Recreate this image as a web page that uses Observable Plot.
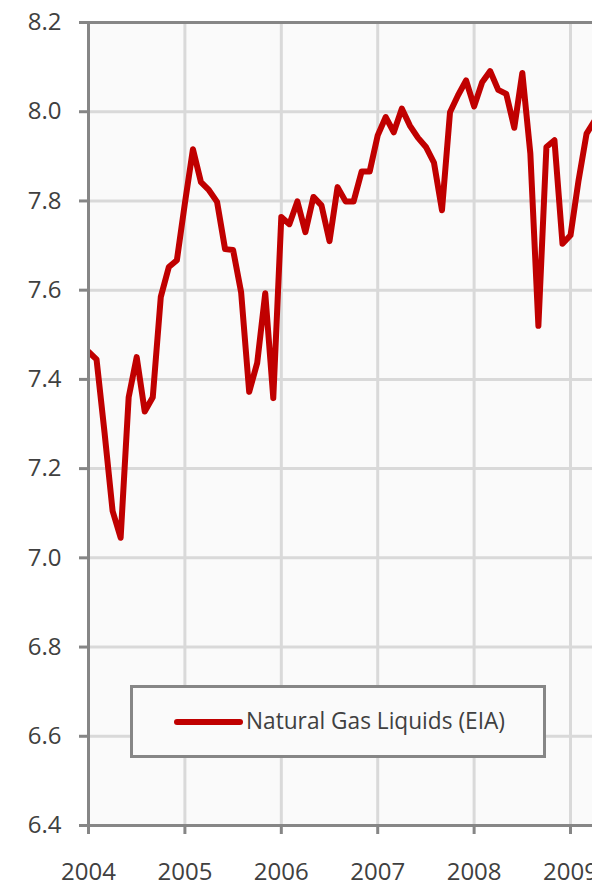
<!DOCTYPE html>
<html>
<head>
<meta charset="utf-8">
<script src="https://cdn.jsdelivr.net/npm/d3@7"></script>
<script src="https://cdn.jsdelivr.net/npm/@observablehq/plot@0.6"></script>
<style>
  html, body { margin: 0; padding: 0; background: #ffffff; overflow: hidden; }
  #wrap { position: relative; width: 592px; height: 884px; }
  #legend {
    position: absolute; left: 130px; top: 685px; width: 416px; height: 73px;
    box-sizing: border-box; border: 3px solid #868686; background: #fafafa;
  }
  #legend svg { position: absolute; left: -3px; top: -3px; }
</style>
</head>
<body>
<div id="wrap"></div>
<script>
// Monthly Natural Gas Liquids production (EIA), million b/d, Jan 2004 – Apr 2009
const months = [
  "2004-01","2004-02","2004-03","2004-04","2004-05","2004-06","2004-07","2004-08","2004-09","2004-10","2004-11","2004-12",
  "2005-01","2005-02","2005-03","2005-04","2005-05","2005-06","2005-07","2005-08","2005-09","2005-10","2005-11","2005-12",
  "2006-01","2006-02","2006-03","2006-04","2006-05","2006-06","2006-07","2006-08","2006-09","2006-10","2006-11","2006-12",
  "2007-01","2007-02","2007-03","2007-04","2007-05","2007-06","2007-07","2007-08","2007-09","2007-10","2007-11","2007-12",
  "2008-01","2008-02","2008-03","2008-04","2008-05","2008-06","2008-07","2008-08","2008-09","2008-10","2008-11","2008-12",
  "2009-01","2009-02","2009-03","2009-04"
];
const values = [
  7.462, 7.445, 7.28, 7.105, 7.045, 7.36, 7.45, 7.328, 7.36, 7.585, 7.652, 7.667,
  7.795, 7.916, 7.842, 7.824, 7.798, 7.692, 7.69, 7.595, 7.372, 7.437, 7.593, 7.358,
  7.764, 7.748, 7.799, 7.73, 7.809, 7.79, 7.71, 7.831, 7.799, 7.799, 7.866, 7.866,
  7.947, 7.988, 7.954, 8.007, 7.969, 7.942, 7.921, 7.886, 7.779, 7.999, 8.037, 8.07,
  8.012, 8.066, 8.091, 8.049, 8.04, 7.964, 8.087, 7.906, 7.52, 7.921, 7.936, 7.704,
  7.723, 7.846, 7.951, 7.98
];
const yearTicks = [2004, 2005, 2006, 2007, 2008, 2009];
const valueTicks = [6.4, 6.6, 6.8, 7.0, 7.2, 7.4, 7.6, 7.8, 8.0, 8.2];
const seriesName = "Natural Gas Liquids (EIA)";

const data = months.map((m, i) => {
  const [y, mo] = m.split("-").map(Number);
  return { t: y + (mo - 1) / 12, v: values[i] };
});

const axisColor = "#868686";
const gridColor = "#d9d9d9";
const textColor = "#404040";
const lineColor = "#c00000";

const chart = Plot.plot({
  width: 592,
  height: 884,
  marginLeft: 88,
  marginRight: 0,
  marginTop: 22,
  marginBottom: 59,
  style: { fontFamily: "Open Sans", fontSize: "24px", color: textColor, background: "#ffffff", overflow: "hidden" },
  x: { domain: [2004, 2009.228], ticks: yearTicks },
  y: { domain: [6.4, 8.2], ticks: valueTicks },
  marks: [
    Plot.frame({ fill: "#fafafa", stroke: null }),
    Plot.gridX(yearTicks, { stroke: gridColor, strokeOpacity: 1, strokeWidth: 3 }),
    Plot.gridY(valueTicks, { stroke: gridColor, strokeOpacity: 1, strokeWidth: 3 }),
    Plot.axisX(yearTicks, {
      tickSize: 9, tickPadding: 28, stroke: axisColor, strokeWidth: 3,
      fill: textColor, fontSize: 24, tickFormat: d => String(d), label: null
    }),
    Plot.axisY(valueTicks, {
      tickSize: 9, tickPadding: 18, stroke: axisColor, strokeWidth: 3,
      fill: textColor, fontSize: 24, tickFormat: d3.format(".1f"), label: null
    }),
    Plot.line(data, {
      x: "t", y: "v", stroke: lineColor, strokeWidth: 6,
      strokeLinejoin: "round", strokeLinecap: "round", clip: true
    }),
    Plot.ruleY([6.4, 8.2], { stroke: axisColor, strokeWidth: 3 }),
    Plot.ruleX([2004], { stroke: axisColor, strokeWidth: 3, y1: 6.4, y2: 8.2 })
  ]
});

const wrap = document.getElementById("wrap");
wrap.appendChild(chart);

const legend = document.createElement("div");
legend.id = "legend";
legend.innerHTML =
  `<svg width="416" height="73" xmlns="http://www.w3.org/2000/svg">
     <line x1="47" y1="37" x2="110" y2="37" stroke="${lineColor}" stroke-width="6" stroke-linecap="round"/>
     <text x="116" y="44" fill="${textColor}" font-family="Open Sans" font-size="23.5"
           textLength="259" lengthAdjust="spacingAndGlyphs">${seriesName}</text>
   </svg>`;
wrap.appendChild(legend);
</script>
</body>
</html>
